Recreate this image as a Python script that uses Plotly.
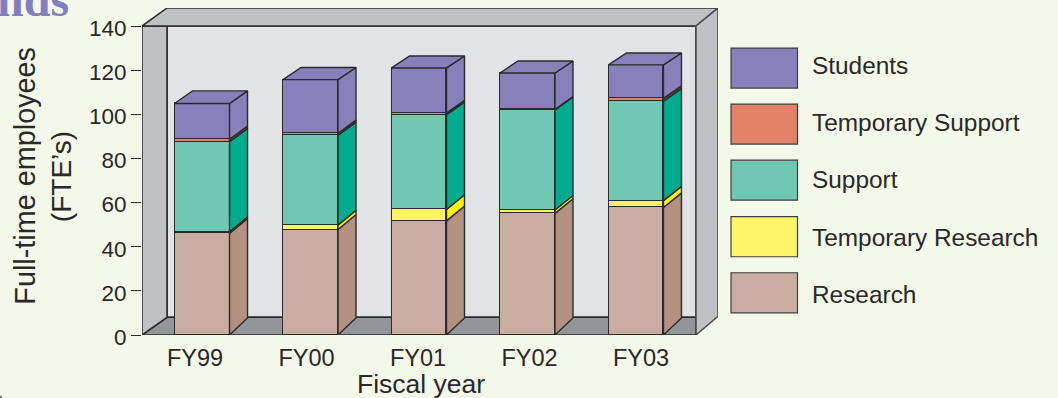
import plotly.graph_objects as go

# Staffing by fiscal year, stacked from the bottom up
years = ["FY99", "FY00", "FY01", "FY02", "FY03"]
research = [46.0, 47.8, 51.7, 55.1, 57.8]
temporary_research = [0.8, 2.0, 5.2, 1.5, 3.0]
support = [40.8, 40.7, 42.9, 45.4, 45.2]
temporary_support = [1.1, 0.9, 0.7, 0.3, 1.2]
students = [16.2, 24.3, 20.5, 16.4, 15.2]
y_ticks = [0, 20, 40, 60, 80, 100, 120, 140]

series = [
    ("Research", research, "#c9ada0", "#b39080"),
    ("Temporary Research", temporary_research, "#fff568", "#fff200"),
    ("Support", support, "#70c7b2", "#00ab8e"),
    ("Temporary Support", temporary_support, "#e38268", "#8f4a36"),
    ("Students", students, "#8880ba", "#8880ba"),
]

INK = "#2a2829"
EDGE = "#2b2a2c"
PAPER = "#f4f8ea"
FONT = "Liberation Sans"

# Pixel frame of the plot area
LEFT, RIGHT, TOP, BOTTOM = 142, 718, 8, 334.7
W, H = 1058, 398
UNIT_X = 111.5          # pixels per category
ZERO_X = 195            # pixel of the first category label
UNIT_Y = 2.205          # pixels per employee

x_range = [(LEFT - ZERO_X) / UNIT_X, (RIGHT - ZERO_X) / UNIT_X]
y_range = [0, (BOTTOM - TOP) / UNIT_Y]

# Bars sit slightly off their labels and have a receding side and top
bar_centers = [0.063, 1.036, 2.009, 2.982, 3.955]
bar_width = 0.493
bar_dx = 18 / UNIT_X


def back(v):
    """Height of a value on the rear edge of a bar (mild perspective)."""
    return 7.7 + 0.981 * v


def px(x):
    return (x - LEFT) / (RIGHT - LEFT)


def py(y):
    return (BOTTOM - y) / (BOTTOM - TOP)


fig = go.Figure()

# Front faces
for name, values, front, _ in series:
    fig.add_trace(go.Bar(
        x=bar_centers, y=values, name=name, width=bar_width,
        marker=dict(color=front, line=dict(color=EDGE, width=1.5)),
        showlegend=False,
    ))

# Side faces and the cap of every stack
base = [0.0] * len(years)
for name, values, _, side in series:
    xs, ys = [], []
    for i, v in enumerate(values):
        r = bar_centers[i] + bar_width / 2
        lo, hi = base[i], base[i] + v
        xs += [r, r + bar_dx, r + bar_dx, r, r, None]
        ys += [lo, back(lo), back(hi), hi, lo, None]
    fig.add_trace(go.Scatter(
        x=xs, y=ys, mode="lines", fill="toself", fillcolor=side,
        line=dict(color=EDGE, width=1.4), showlegend=False, hoverinfo="skip",
    ))
    base = [b + v for b, v in zip(base, values)]

cap_x, cap_y = [], []
for i, top in enumerate(base):
    l = bar_centers[i] - bar_width / 2
    r = bar_centers[i] + bar_width / 2
    cap_x += [l, l + bar_dx, r + bar_dx, r, l, None]
    cap_y += [top, back(top), back(top), top, top, None]
fig.add_trace(go.Scatter(
    x=cap_x, y=cap_y, mode="lines", fill="toself", fillcolor=series[-1][2],
    line=dict(color=EDGE, width=1.4), showlegend=False, hoverinfo="skip",
))


# Chart box: rear wall, floor, side walls and top rim, in axis units
def ux(p):
    return (p - ZERO_X) / UNIT_X


def uy(p):
    return (BOTTOM - p) / UNIT_Y


def poly(points, fill, line=EDGE, width=1.5):
    path = "M " + " L ".join(f"{ux(a):.4f},{uy(b):.3f}" for a, b in points) + " Z"
    return dict(type="path", path=path, xref="x", yref="y", layer="below",
                fillcolor=fill, line=dict(color=line, width=width))


shapes = [
    poly([(167, 26), (696, 26), (696, 317), (167, 317)], "#e2e3e5"),
    poly([(142, 334.7), (167, 317), (696, 317), (696, 334.7)], "#939598"),
    poly([(142, 26), (167, 26), (167, 317), (142, 334.7)], "#c0c1c3"),
    poly([(142, 26), (167, 8), (718, 8), (696, 26)], "#c0c1c3"),
    poly([(696, 26), (718, 8), (718, 316), (696, 334.7)], "#c0c1c3", "#4a4a4c"),
    # Edge of the surrounding panel, just showing in the lower left corner
    dict(type="rect", xref="paper", yref="paper", x0=px(0), x1=px(2),
         y0=py(395.5), y1=py(398), fillcolor="#76807a", line=dict(width=0)),
]

# Legend swatches and labels, top entry first
annotations = []
row_tops = [48, 104, 160, 216.5, 272.5]
text_rows = [65.3, 122.3, 179.3, 237.3, 294.3]
for (name, _, front, _), row, text_y in zip(reversed(series), row_tops, text_rows):
    shapes.append(dict(
        type="rect", xref="paper", yref="paper",
        x0=px(731), x1=px(797.5), y0=py(row), y1=py(row + 40),
        fillcolor=front, line=dict(color="#3f3e40", width=1.2),
    ))
    annotations.append(dict(
        text=name, xref="paper", yref="paper", x=px(810), y=py(text_y),
        xanchor="left", yanchor="middle", showarrow=False,
        font=dict(family=FONT, size=24.4, color=INK),
    ))

# Axis titles and the tail of the page heading above the chart
annotations += [
    dict(text="Full-time employees", xref="paper", yref="paper",
         x=px(25.5), y=py(176), textangle=-90, showarrow=False,
         xanchor="center", yanchor="middle",
         font=dict(family=FONT, size=28.8, color=INK)),
    dict(text="(FTE’s)", xref="paper", yref="paper",
         x=px(61), y=py(177), textangle=-90, showarrow=False,
         xanchor="center", yanchor="middle",
         font=dict(family=FONT, size=28, color=INK)),
    dict(text="Fiscal year", xref="paper", yref="paper",
         x=px(421), y=py(383.5), showarrow=False,
         xanchor="center", yanchor="middle",
         font=dict(family=FONT, size=26.5, color=INK)),
    dict(text="<b>nds</b>", xref="paper", yref="paper",
         x=px(71), y=py(-0.6), showarrow=False,
         xanchor="right", yanchor="middle",
         font=dict(family="Liberation Serif", size=48, color="#8080c0")),
]

fig.update_layout(
    width=W, height=H, barmode="stack", bargap=0,
    margin=dict(l=LEFT, r=W - RIGHT, t=TOP, b=H - BOTTOM, autoexpand=False),
    paper_bgcolor=PAPER, plot_bgcolor=PAPER,
    shapes=shapes, annotations=annotations,
    xaxis=dict(range=x_range, tickvals=list(range(len(years))), ticktext=years,
               showgrid=False, zeroline=False, showline=False, ticks="",
               ticklabelstandoff=6,
               tickfont=dict(family=FONT, size=23.5, color=INK)),
    yaxis=dict(range=y_range, tickvals=y_ticks, showgrid=False, zeroline=False,
               showline=False, ticks="outside", ticklen=10, tickwidth=1.3,
               tickcolor=EDGE, ticklabelshift=2,
               tickfont=dict(family=FONT, size=22.5, color=INK)),
)

fig.write_html("out.html", config={"displayModeBar": False})
